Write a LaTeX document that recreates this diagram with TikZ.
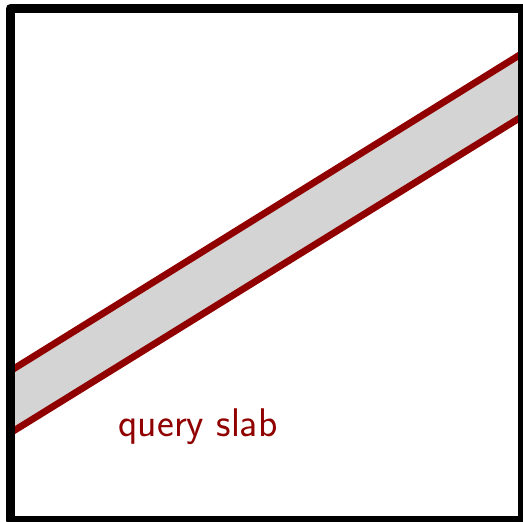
\documentclass[tikz,border=0pt]{standalone}
\usetikzlibrary{positioning}
\definecolor{slabred}{RGB}{145,0,0}
\tikzset{
  frame/.style={draw=black,line width=4.5pt,line join=round},
  slabedge/.style={draw=slabred,line width=3.4pt},
  slabfill/.style={fill=black!17},
  lbl/.style={text=slabred,inner sep=0pt,anchor=base,
    font=\sffamily\fontsize{20}{24}\selectfont},
}
\begin{document}
\begin{tikzpicture}[x=0.5pt,y=-0.5pt]
  \useasboundingbox (0,0) rectangle (523,522);
  % corners of the domain
  \coordinate (nw) at (10.5,8.5);
  \coordinate (se) at (522.5,520.5);
  % slab boundaries
  \coordinate (upL) at (0,377.3);
  \coordinate (upR) at (523,52.9);
  \coordinate (loL) at (0,439.3);
  \coordinate (loR) at (523,115.9);
  \begin{scope}
    \clip (nw) rectangle (se);
    \path[slabfill] (upL) -- (upR) -- (loR) -- (loL) -- cycle;
    \draw[slabedge] (upL) -- (upR);
    \draw[slabedge] (loL) -- (loR);
  \end{scope}
  % domain
  \draw[frame] (nw) rectangle (se);
  \node[lbl] (qs) at (198,437) {query slab};
\end{tikzpicture}
\end{document}
